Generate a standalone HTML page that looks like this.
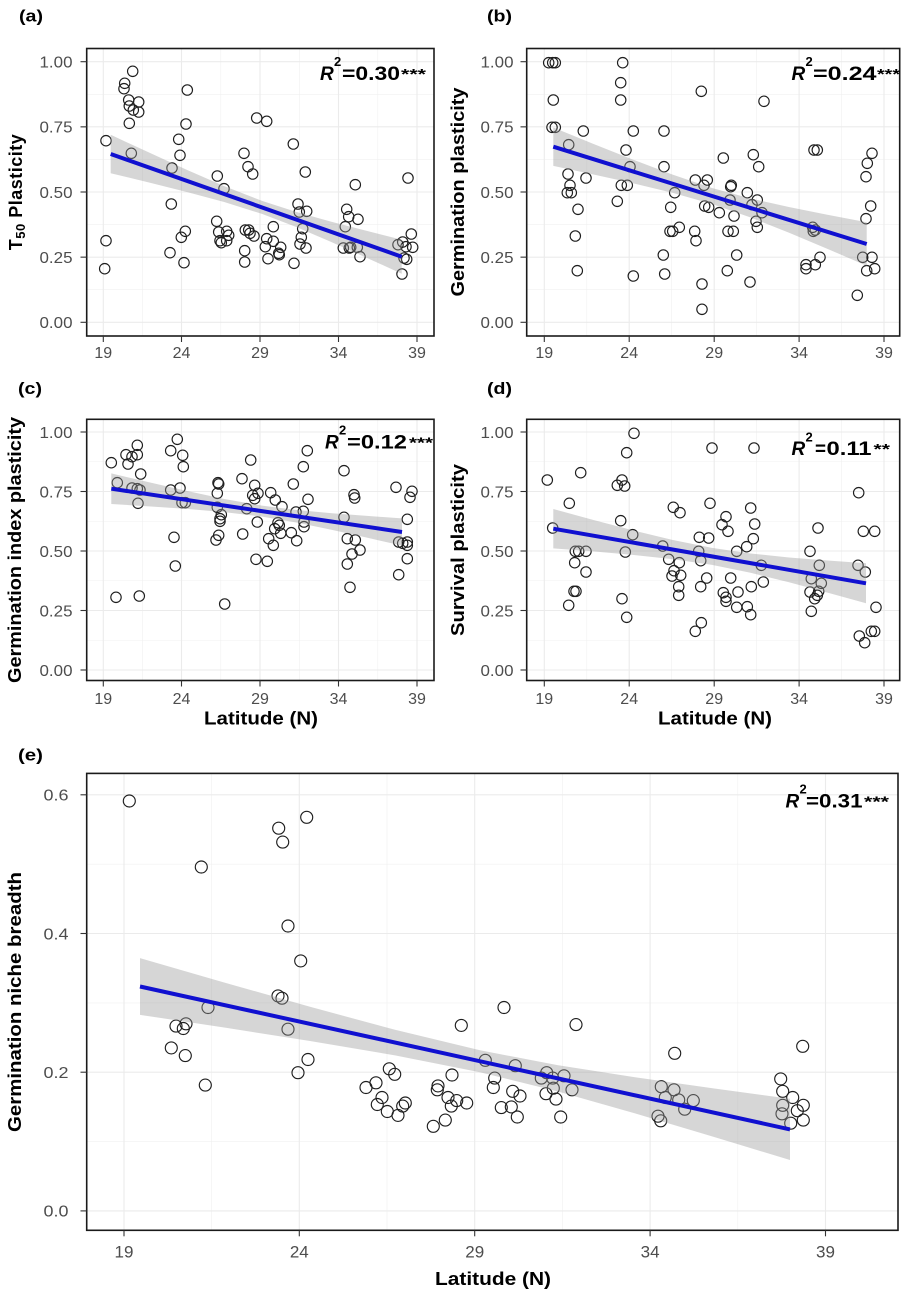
<!DOCTYPE html>
<html><head><meta charset="utf-8"><style>
html,body{margin:0;padding:0;background:#fff;}
svg{display:block;}
text{font-family:"Liberation Sans",Arial,sans-serif;}
.tk{font-size:16px;fill:#4d4d4d;}
.ti{font-size:18px;font-weight:bold;fill:#000;}
.pl{font-size:17px;font-weight:bold;fill:#000;}
.gm{stroke:#ebebeb;stroke-width:1.1;}
.gn{stroke:#f0f0f0;stroke-width:0.6;}
.pt{fill:none;stroke:#1e1e1e;stroke-width:1.15;}
.rb{fill:#999;fill-opacity:0.4;stroke:none;}
.rl{stroke:#1010d0;stroke-width:4;stroke-linecap:butt;fill:none;}
.bd{fill:none;stroke:#1a1a1a;stroke-width:1.6;}
.tm{stroke:#333;stroke-width:1.1;}
.rr{font-weight:bold;fill:#000;}
</style></head><body>
<svg width="908" height="1299" viewBox="0 0 908 1299" xmlns="http://www.w3.org/2000/svg">
<rect x="0" y="0" width="908" height="1299" fill="#fff"/>

<!-- ================= PANEL A ================= -->
<text class="pl" x="19" y="21.5" textLength="24" lengthAdjust="spacingAndGlyphs">(a)</text>
<g>
<line class="gn" x1="142.4" y1="48.5" x2="142.4" y2="336"/><line class="gn" x1="220.8" y1="48.5" x2="220.8" y2="336"/><line class="gn" x1="299.3" y1="48.5" x2="299.3" y2="336"/><line class="gn" x1="377.8" y1="48.5" x2="377.8" y2="336"/>
<line class="gn" x1="86.7" y1="94.3" x2="434" y2="94.3"/><line class="gn" x1="86.7" y1="159.4" x2="434" y2="159.4"/><line class="gn" x1="86.7" y1="224.6" x2="434" y2="224.6"/><line class="gn" x1="86.7" y1="289.7" x2="434" y2="289.7"/>
<line class="gm" x1="103.3" y1="48.5" x2="103.3" y2="336"/><line class="gm" x1="181.5" y1="48.5" x2="181.5" y2="336"/><line class="gm" x1="260" y1="48.5" x2="260" y2="336"/><line class="gm" x1="338.5" y1="48.5" x2="338.5" y2="336"/><line class="gm" x1="417" y1="48.5" x2="417" y2="336"/>
<line class="gm" x1="86.7" y1="61.7" x2="434" y2="61.7"/><line class="gm" x1="86.7" y1="126.85" x2="434" y2="126.85"/><line class="gm" x1="86.7" y1="192" x2="434" y2="192"/><line class="gm" x1="86.7" y1="257.15" x2="434" y2="257.15"/><line class="gm" x1="86.7" y1="322.3" x2="434" y2="322.3"/>
</g>
<g class="pt">
<circle cx="106" cy="140.7" r="5.2"/><circle cx="106" cy="240.7" r="5.2"/><circle cx="104.7" cy="268.7" r="5.2"/><circle cx="124.7" cy="83.3" r="5.2"/><circle cx="124" cy="88.7" r="5.2"/><circle cx="132.7" cy="71.3" r="5.2"/><circle cx="128.7" cy="100" r="5.2"/><circle cx="129.3" cy="106" r="5.2"/><circle cx="133.3" cy="110" r="5.2"/><circle cx="138.7" cy="102" r="5.2"/><circle cx="138.7" cy="112" r="5.2"/><circle cx="129.3" cy="123.3" r="5.2"/><circle cx="131.3" cy="153.3" r="5.2"/>
<circle cx="187.3" cy="90" r="5.2"/><circle cx="186" cy="124" r="5.2"/><circle cx="178.7" cy="139.3" r="5.2"/><circle cx="180" cy="155.3" r="5.2"/><circle cx="172" cy="168" r="5.2"/><circle cx="171.3" cy="204" r="5.2"/><circle cx="185.3" cy="231.3" r="5.2"/><circle cx="181.3" cy="237.3" r="5.2"/><circle cx="170" cy="252.7" r="5.2"/><circle cx="184" cy="262.7" r="5.2"/>
<circle cx="217.3" cy="176" r="5.2"/><circle cx="224" cy="188.7" r="5.2"/><circle cx="216.7" cy="221.3" r="5.2"/><circle cx="218.7" cy="232" r="5.2"/><circle cx="226.7" cy="231.3" r="5.2"/><circle cx="228.7" cy="235.3" r="5.2"/><circle cx="220" cy="240.7" r="5.2"/><circle cx="221.3" cy="242.7" r="5.2"/><circle cx="226.7" cy="240.7" r="5.2"/>
<circle cx="244" cy="153.3" r="5.2"/><circle cx="248" cy="166.7" r="5.2"/><circle cx="252.7" cy="174" r="5.2"/><circle cx="245.3" cy="230" r="5.2"/><circle cx="248.7" cy="230" r="5.2"/><circle cx="250" cy="233.3" r="5.2"/><circle cx="254" cy="236" r="5.2"/><circle cx="244.7" cy="250.7" r="5.2"/><circle cx="244.7" cy="262" r="5.2"/>
<circle cx="256.7" cy="118" r="5.2"/><circle cx="266.7" cy="121.3" r="5.2"/><circle cx="273.3" cy="226.7" r="5.2"/><circle cx="266.7" cy="238.7" r="5.2"/><circle cx="265.3" cy="246.7" r="5.2"/><circle cx="273.3" cy="241.3" r="5.2"/><circle cx="268" cy="258.7" r="5.2"/><circle cx="280.7" cy="247.3" r="5.2"/><circle cx="279.3" cy="254.7" r="5.2"/><circle cx="278.7" cy="253.3" r="5.2"/>
<circle cx="293.3" cy="144" r="5.2"/><circle cx="305.3" cy="172" r="5.2"/><circle cx="298" cy="204" r="5.2"/><circle cx="299.3" cy="212" r="5.2"/><circle cx="306.7" cy="211.3" r="5.2"/><circle cx="302.7" cy="228.7" r="5.2"/><circle cx="301.3" cy="237.3" r="5.2"/><circle cx="300" cy="244" r="5.2"/><circle cx="306" cy="248" r="5.2"/><circle cx="294" cy="263.3" r="5.2"/>
<circle cx="355.3" cy="184.7" r="5.2"/><circle cx="346.7" cy="209.3" r="5.2"/><circle cx="348.7" cy="216.7" r="5.2"/><circle cx="358" cy="219.3" r="5.2"/><circle cx="345.3" cy="226.7" r="5.2"/><circle cx="343.3" cy="248" r="5.2"/><circle cx="350.7" cy="247.3" r="5.2"/><circle cx="349.3" cy="248" r="5.2"/><circle cx="357.3" cy="247.3" r="5.2"/><circle cx="360" cy="256.7" r="5.2"/>
<circle cx="408" cy="178" r="5.2"/><circle cx="411.3" cy="234" r="5.2"/><circle cx="398" cy="244.7" r="5.2"/><circle cx="402.7" cy="242" r="5.2"/><circle cx="406" cy="246.7" r="5.2"/><circle cx="412.7" cy="247.3" r="5.2"/><circle cx="404" cy="258" r="5.2"/><circle cx="406.7" cy="259.3" r="5.2"/><circle cx="402" cy="274" r="5.2"/>
</g>
<polygon class="rb" points="110.7,134.8 148.5,152.31 186.35,169.57 224.2,186.14 262,200.9 296.9,212.12 331.85,221.85 366.8,230.92 401.7,239.7 401.7,273.7 366.8,257.84 331.85,242.23 296.9,227.3 262,213.9 224.2,201.96 186.35,191.83 148.5,182.37 110.7,173.2"/>
<line class="rl" x1="110.7" y1="154" x2="401.7" y2="256.7"/>
<rect class="bd" x="86.7" y="48.5" width="347.3" height="287.5"/>
<g class="tm">
<line x1="80.5" y1="61.7" x2="86.7" y2="61.7"/><line x1="80.5" y1="126.85" x2="86.7" y2="126.85"/><line x1="80.5" y1="192" x2="86.7" y2="192"/><line x1="80.5" y1="257.15" x2="86.7" y2="257.15"/><line x1="80.5" y1="322.3" x2="86.7" y2="322.3"/>
<line x1="103.3" y1="336" x2="103.3" y2="342"/><line x1="181.5" y1="336" x2="181.5" y2="342"/><line x1="260" y1="336" x2="260" y2="342"/><line x1="338.5" y1="336" x2="338.5" y2="342"/><line x1="417" y1="336" x2="417" y2="342"/>
</g>
<g class="tk">
<text x="39.5" y="67.5" textLength="33" lengthAdjust="spacingAndGlyphs">1.00</text>
<text x="39.5" y="132.6" textLength="33" lengthAdjust="spacingAndGlyphs">0.75</text>
<text x="39.5" y="197.8" textLength="33" lengthAdjust="spacingAndGlyphs">0.50</text>
<text x="39.5" y="262.9" textLength="33" lengthAdjust="spacingAndGlyphs">0.25</text>
<text x="39.5" y="328.1" textLength="33" lengthAdjust="spacingAndGlyphs">0.00</text>
<g text-anchor="middle"><text x="103.3" y="358">19</text><text x="181.5" y="358">24</text><text x="260" y="358">29</text><text x="338.5" y="358">34</text><text x="417" y="358">39</text></g>
</g>
<text class="ti" transform="translate(22,192) rotate(-90)" text-anchor="middle" letter-spacing="0.5">T<tspan font-size="13" dy="3">50</tspan><tspan dy="-3"> Plasticity</tspan></text>
<g class="rr">
<text x="320" y="80" font-size="19" font-style="italic">R</text>
<text x="334" y="66" font-size="13">2</text>
<text x="342" y="80" font-size="19" textLength="58" lengthAdjust="spacingAndGlyphs">=0.30</text>
<text x="401" y="79" font-size="15" textLength="25" lengthAdjust="spacingAndGlyphs">***</text>
</g>

<!-- ================= PANEL B ================= -->
<text class="pl" x="487" y="21.5" textLength="25" lengthAdjust="spacingAndGlyphs">(b)</text>
<g>
<line class="gn" x1="586.8" y1="48.5" x2="586.8" y2="336"/><line class="gn" x1="671.7" y1="48.5" x2="671.7" y2="336"/><line class="gn" x1="756.6" y1="48.5" x2="756.6" y2="336"/><line class="gn" x1="841.6" y1="48.5" x2="841.6" y2="336"/>
<line class="gn" x1="526.7" y1="94.3" x2="899.7" y2="94.3"/><line class="gn" x1="526.7" y1="159.4" x2="899.7" y2="159.4"/><line class="gn" x1="526.7" y1="224.6" x2="899.7" y2="224.6"/><line class="gn" x1="526.7" y1="289.7" x2="899.7" y2="289.7"/>
<line class="gm" x1="544.3" y1="48.5" x2="544.3" y2="336"/><line class="gm" x1="629.2" y1="48.5" x2="629.2" y2="336"/><line class="gm" x1="714.2" y1="48.5" x2="714.2" y2="336"/><line class="gm" x1="799.1" y1="48.5" x2="799.1" y2="336"/><line class="gm" x1="884" y1="48.5" x2="884" y2="336"/>
<line class="gm" x1="526.7" y1="61.7" x2="899.7" y2="61.7"/><line class="gm" x1="526.7" y1="126.85" x2="899.7" y2="126.85"/><line class="gm" x1="526.7" y1="192" x2="899.7" y2="192"/><line class="gm" x1="526.7" y1="257.15" x2="899.7" y2="257.15"/><line class="gm" x1="526.7" y1="322.3" x2="899.7" y2="322.3"/>
</g>
<g class="pt">
<circle cx="548.7" cy="62.7" r="5.2"/><circle cx="552.7" cy="62.7" r="5.2"/><circle cx="555.3" cy="62.7" r="5.2"/><circle cx="553.3" cy="100" r="5.2"/><circle cx="552" cy="127.3" r="5.2"/><circle cx="555.3" cy="127.3" r="5.2"/><circle cx="568.7" cy="144.7" r="5.2"/><circle cx="583.3" cy="131" r="5.2"/><circle cx="568" cy="174" r="5.2"/><circle cx="570" cy="185.3" r="5.2"/><circle cx="567.3" cy="192.7" r="5.2"/><circle cx="571.3" cy="192.7" r="5.2"/><circle cx="586" cy="178" r="5.2"/><circle cx="578" cy="209.3" r="5.2"/><circle cx="575.3" cy="236" r="5.2"/><circle cx="577.3" cy="270.7" r="5.2"/>
<circle cx="622.7" cy="62.7" r="5.2"/><circle cx="620.7" cy="82.7" r="5.2"/><circle cx="620.7" cy="100" r="5.2"/><circle cx="633.3" cy="131" r="5.2"/><circle cx="626" cy="150" r="5.2"/><circle cx="630" cy="166.7" r="5.2"/><circle cx="621.3" cy="185.3" r="5.2"/><circle cx="627.3" cy="185.3" r="5.2"/><circle cx="617.3" cy="201.3" r="5.2"/><circle cx="633.3" cy="276" r="5.2"/>
<circle cx="664" cy="131" r="5.2"/><circle cx="664" cy="166.7" r="5.2"/><circle cx="674.7" cy="192.7" r="5.2"/><circle cx="670.7" cy="207.3" r="5.2"/><circle cx="670" cy="231.3" r="5.2"/><circle cx="672.7" cy="231.3" r="5.2"/><circle cx="679.3" cy="227.3" r="5.2"/><circle cx="663.3" cy="255" r="5.2"/><circle cx="664.7" cy="274" r="5.2"/>
<circle cx="701.3" cy="91.3" r="5.2"/><circle cx="695.3" cy="180" r="5.2"/><circle cx="704" cy="185.3" r="5.2"/><circle cx="707.3" cy="180" r="5.2"/><circle cx="704.7" cy="206" r="5.2"/><circle cx="708.7" cy="207.3" r="5.2"/><circle cx="694.7" cy="231.3" r="5.2"/><circle cx="696" cy="240.7" r="5.2"/><circle cx="702" cy="284" r="5.2"/><circle cx="702" cy="309.3" r="5.2"/>
<circle cx="723.3" cy="158" r="5.2"/><circle cx="719.3" cy="212.7" r="5.2"/><circle cx="731.3" cy="185.3" r="5.2"/><circle cx="730.7" cy="186.7" r="5.2"/><circle cx="730" cy="200" r="5.2"/><circle cx="734" cy="216" r="5.2"/><circle cx="728" cy="231.3" r="5.2"/><circle cx="733.3" cy="231.3" r="5.2"/><circle cx="736.7" cy="255" r="5.2"/><circle cx="727.3" cy="270.7" r="5.2"/><circle cx="750" cy="282" r="5.2"/>
<circle cx="753.3" cy="154.7" r="5.2"/><circle cx="758.7" cy="166.7" r="5.2"/><circle cx="764" cy="101.3" r="5.2"/><circle cx="747.3" cy="192.7" r="5.2"/><circle cx="752" cy="204.7" r="5.2"/><circle cx="757.3" cy="200" r="5.2"/><circle cx="762" cy="212.7" r="5.2"/><circle cx="756" cy="221.3" r="5.2"/><circle cx="757.3" cy="227.3" r="5.2"/>
<circle cx="814" cy="150" r="5.2"/><circle cx="817.3" cy="150" r="5.2"/><circle cx="812.7" cy="227.3" r="5.2"/><circle cx="813.3" cy="231.3" r="5.2"/><circle cx="815.3" cy="230" r="5.2"/><circle cx="806" cy="264.7" r="5.2"/><circle cx="806" cy="268.7" r="5.2"/><circle cx="815.3" cy="264.7" r="5.2"/><circle cx="820" cy="257.3" r="5.2"/>
<circle cx="872" cy="153.3" r="5.2"/><circle cx="867.3" cy="163.3" r="5.2"/><circle cx="866" cy="176.7" r="5.2"/><circle cx="870.7" cy="206" r="5.2"/><circle cx="866" cy="218.7" r="5.2"/><circle cx="862.7" cy="257.3" r="5.2"/><circle cx="872" cy="257.3" r="5.2"/><circle cx="866.7" cy="270.7" r="5.2"/><circle cx="874.7" cy="268.7" r="5.2"/><circle cx="857.3" cy="295.3" r="5.2"/>
</g>
<polygon class="rb" points="553.3,127.5 593,143.69 632.6,159.48 672.3,174.54 712,187.98 750.7,198.53 789.4,207.13 828,214.89 866.7,222.3 866.7,265.7 828,249.11 789.4,232.89 750.7,217.45 712,203.98 672.3,192.76 632.6,183.16 593,174.37 553.3,165.9"/>
<line class="rl" x1="553.3" y1="146.7" x2="866.7" y2="244"/>
<rect class="bd" x="526.7" y="48.5" width="373" height="287.5"/>
<g class="tm">
<line x1="520.5" y1="61.7" x2="526.7" y2="61.7"/><line x1="520.5" y1="126.85" x2="526.7" y2="126.85"/><line x1="520.5" y1="192" x2="526.7" y2="192"/><line x1="520.5" y1="257.15" x2="526.7" y2="257.15"/><line x1="520.5" y1="322.3" x2="526.7" y2="322.3"/>
<line x1="544.3" y1="336" x2="544.3" y2="342"/><line x1="629.2" y1="336" x2="629.2" y2="342"/><line x1="714.2" y1="336" x2="714.2" y2="342"/><line x1="799.1" y1="336" x2="799.1" y2="342"/><line x1="884" y1="336" x2="884" y2="342"/>
</g>
<g class="tk">
<text x="480.5" y="67.5" textLength="33" lengthAdjust="spacingAndGlyphs">1.00</text>
<text x="480.5" y="132.6" textLength="33" lengthAdjust="spacingAndGlyphs">0.75</text>
<text x="480.5" y="197.8" textLength="33" lengthAdjust="spacingAndGlyphs">0.50</text>
<text x="480.5" y="262.9" textLength="33" lengthAdjust="spacingAndGlyphs">0.25</text>
<text x="480.5" y="328.1" textLength="33" lengthAdjust="spacingAndGlyphs">0.00</text>
<g text-anchor="middle"><text x="544.3" y="358">19</text><text x="629.2" y="358">24</text><text x="714.2" y="358">29</text><text x="799.1" y="358">34</text><text x="884" y="358">39</text></g>
</g>
<text class="ti" transform="translate(464,192) rotate(-90)" text-anchor="middle" textLength="209" lengthAdjust="spacingAndGlyphs">Germination plasticity</text>
<g class="rr">
<text x="791.5" y="80" font-size="19" font-style="italic">R</text>
<text x="805.5" y="66" font-size="13">2</text>
<text x="813" y="80" font-size="19" textLength="63.5" lengthAdjust="spacingAndGlyphs">=0.24</text>
<text x="877" y="79" font-size="15" textLength="23" lengthAdjust="spacingAndGlyphs">***</text>
</g>

<!-- ================= PANEL C ================= -->
<text class="pl" x="18" y="394" textLength="24" lengthAdjust="spacingAndGlyphs">(c)</text>
<g>
<line class="gn" x1="142.4" y1="419.3" x2="142.4" y2="680.5"/><line class="gn" x1="220.8" y1="419.3" x2="220.8" y2="680.5"/><line class="gn" x1="299.3" y1="419.3" x2="299.3" y2="680.5"/><line class="gn" x1="377.8" y1="419.3" x2="377.8" y2="680.5"/>
<line class="gn" x1="86.7" y1="461.75" x2="434" y2="461.75"/><line class="gn" x1="86.7" y1="521.25" x2="434" y2="521.25"/><line class="gn" x1="86.7" y1="580.75" x2="434" y2="580.75"/><line class="gn" x1="86.7" y1="640.25" x2="434" y2="640.25"/>
<line class="gm" x1="103.3" y1="419.3" x2="103.3" y2="680.5"/><line class="gm" x1="181.5" y1="419.3" x2="181.5" y2="680.5"/><line class="gm" x1="260" y1="419.3" x2="260" y2="680.5"/><line class="gm" x1="338.5" y1="419.3" x2="338.5" y2="680.5"/><line class="gm" x1="417" y1="419.3" x2="417" y2="680.5"/>
<line class="gm" x1="86.7" y1="432" x2="434" y2="432"/><line class="gm" x1="86.7" y1="491.5" x2="434" y2="491.5"/><line class="gm" x1="86.7" y1="551" x2="434" y2="551"/><line class="gm" x1="86.7" y1="610.5" x2="434" y2="610.5"/><line class="gm" x1="86.7" y1="670" x2="434" y2="670"/>
</g>
<g class="pt">
<circle cx="111.3" cy="462.7" r="5.2"/><circle cx="117.3" cy="482.7" r="5.2"/><circle cx="116" cy="597.3" r="5.2"/><circle cx="126" cy="454.7" r="5.2"/><circle cx="128" cy="464" r="5.2"/><circle cx="132" cy="456.7" r="5.2"/><circle cx="137.3" cy="454.7" r="5.2"/><circle cx="137.3" cy="445.3" r="5.2"/><circle cx="140.7" cy="474" r="5.2"/><circle cx="132" cy="488" r="5.2"/><circle cx="137.3" cy="488.7" r="5.2"/><circle cx="140" cy="490" r="5.2"/><circle cx="138" cy="503.3" r="5.2"/><circle cx="139.3" cy="596" r="5.2"/>
<circle cx="170.7" cy="450.7" r="5.2"/><circle cx="177.3" cy="439.3" r="5.2"/><circle cx="182.7" cy="455.3" r="5.2"/><circle cx="183.3" cy="466.7" r="5.2"/><circle cx="170.7" cy="490" r="5.2"/><circle cx="180" cy="488" r="5.2"/><circle cx="182" cy="502.7" r="5.2"/><circle cx="185.3" cy="502.7" r="5.2"/><circle cx="174" cy="537.3" r="5.2"/><circle cx="175.3" cy="566" r="5.2"/>
<circle cx="218" cy="482.7" r="5.2"/><circle cx="218.7" cy="484" r="5.2"/><circle cx="217.3" cy="493.3" r="5.2"/><circle cx="217.3" cy="507.3" r="5.2"/><circle cx="221.3" cy="514.7" r="5.2"/><circle cx="220" cy="521.3" r="5.2"/><circle cx="220" cy="518.7" r="5.2"/><circle cx="216" cy="540" r="5.2"/><circle cx="218.7" cy="535.3" r="5.2"/><circle cx="224.7" cy="604" r="5.2"/>
<circle cx="250.7" cy="460" r="5.2"/><circle cx="242" cy="478.7" r="5.2"/><circle cx="254.7" cy="485.3" r="5.2"/><circle cx="252.7" cy="495.3" r="5.2"/><circle cx="258" cy="493.3" r="5.2"/><circle cx="254.7" cy="498.7" r="5.2"/><circle cx="246.7" cy="508.7" r="5.2"/><circle cx="242.7" cy="534" r="5.2"/><circle cx="257.3" cy="522" r="5.2"/><circle cx="256" cy="559.3" r="5.2"/><circle cx="267.3" cy="561.3" r="5.2"/>
<circle cx="270.7" cy="492.7" r="5.2"/><circle cx="275.3" cy="500" r="5.2"/><circle cx="282" cy="506.7" r="5.2"/><circle cx="278" cy="522.7" r="5.2"/><circle cx="274.7" cy="528.7" r="5.2"/><circle cx="279.3" cy="525.3" r="5.2"/><circle cx="268.7" cy="538.7" r="5.2"/><circle cx="273.3" cy="545.3" r="5.2"/><circle cx="280.7" cy="533.3" r="5.2"/><circle cx="291.3" cy="532.7" r="5.2"/><circle cx="296.7" cy="540.7" r="5.2"/>
<circle cx="293.3" cy="484" r="5.2"/><circle cx="296" cy="512" r="5.2"/><circle cx="303.3" cy="511.3" r="5.2"/><circle cx="304" cy="522" r="5.2"/><circle cx="304" cy="526.7" r="5.2"/><circle cx="307.3" cy="450.7" r="5.2"/><circle cx="303.3" cy="466.7" r="5.2"/><circle cx="308" cy="499.3" r="5.2"/>
<circle cx="344" cy="470.7" r="5.2"/><circle cx="344" cy="517.3" r="5.2"/><circle cx="354" cy="494.7" r="5.2"/><circle cx="354.7" cy="498" r="5.2"/><circle cx="347.3" cy="538.7" r="5.2"/><circle cx="355.3" cy="540" r="5.2"/><circle cx="352" cy="554" r="5.2"/><circle cx="360" cy="550" r="5.2"/><circle cx="347.3" cy="564" r="5.2"/><circle cx="350" cy="587.3" r="5.2"/>
<circle cx="396" cy="487.3" r="5.2"/><circle cx="412" cy="491.3" r="5.2"/><circle cx="410" cy="497.3" r="5.2"/><circle cx="407.3" cy="519.3" r="5.2"/><circle cx="398.7" cy="542" r="5.2"/><circle cx="402.7" cy="543.3" r="5.2"/><circle cx="407.3" cy="542" r="5.2"/><circle cx="407.3" cy="545.3" r="5.2"/><circle cx="407.3" cy="558.7" r="5.2"/><circle cx="398.7" cy="574.7" r="5.2"/>
</g>
<polygon class="rb" points="111.3,473.4 149,482.28 186.65,490.91 224.3,498.97 262,505.65 297,510.04 332,513.25 367,515.93 402,518.35 402,545.65 367,537.65 332,529.89 297,522.68 262,516.65 224.3,512.09 186.65,508.93 149,506.36 111.3,504"/>
<line class="rl" x1="111.3" y1="488.7" x2="402" y2="532"/>
<rect class="bd" x="86.7" y="419.3" width="347.3" height="261.2"/>
<g class="tm">
<line x1="80.5" y1="432" x2="86.7" y2="432"/><line x1="80.5" y1="491.5" x2="86.7" y2="491.5"/><line x1="80.5" y1="551" x2="86.7" y2="551"/><line x1="80.5" y1="610.5" x2="86.7" y2="610.5"/><line x1="80.5" y1="670" x2="86.7" y2="670"/>
<line x1="103.3" y1="680.5" x2="103.3" y2="686.5"/><line x1="181.5" y1="680.5" x2="181.5" y2="686.5"/><line x1="260" y1="680.5" x2="260" y2="686.5"/><line x1="338.5" y1="680.5" x2="338.5" y2="686.5"/><line x1="417" y1="680.5" x2="417" y2="686.5"/>
</g>
<g class="tk">
<text x="39.5" y="437.8" textLength="33" lengthAdjust="spacingAndGlyphs">1.00</text>
<text x="39.5" y="497.3" textLength="33" lengthAdjust="spacingAndGlyphs">0.75</text>
<text x="39.5" y="556.8" textLength="33" lengthAdjust="spacingAndGlyphs">0.50</text>
<text x="39.5" y="616.3" textLength="33" lengthAdjust="spacingAndGlyphs">0.25</text>
<text x="39.5" y="675.8" textLength="33" lengthAdjust="spacingAndGlyphs">0.00</text>
<g text-anchor="middle"><text x="103.3" y="704">19</text><text x="181.5" y="704">24</text><text x="260" y="704">29</text><text x="338.5" y="704">34</text><text x="417" y="704">39</text></g>
</g>
<text class="ti" transform="translate(21,550) rotate(-90)" text-anchor="middle" textLength="266" lengthAdjust="spacingAndGlyphs">Germination index plasticity</text>
<text class="ti" x="261" y="724.5" text-anchor="middle" textLength="114" lengthAdjust="spacingAndGlyphs">Latitude (N)</text>
<g class="rr">
<text x="325" y="448.5" font-size="19" font-style="italic">R</text>
<text x="339" y="434.5" font-size="13">2</text>
<text x="347" y="448.5" font-size="19" textLength="60" lengthAdjust="spacingAndGlyphs">=0.12</text>
<text x="409" y="447.5" font-size="15" textLength="24" lengthAdjust="spacingAndGlyphs">***</text>
</g>

<!-- ================= PANEL D ================= -->
<text class="pl" x="487" y="394" textLength="25" lengthAdjust="spacingAndGlyphs">(d)</text>
<g>
<line class="gn" x1="586.8" y1="419.3" x2="586.8" y2="680.5"/><line class="gn" x1="671.7" y1="419.3" x2="671.7" y2="680.5"/><line class="gn" x1="756.6" y1="419.3" x2="756.6" y2="680.5"/><line class="gn" x1="841.6" y1="419.3" x2="841.6" y2="680.5"/>
<line class="gn" x1="526.7" y1="461.75" x2="899.7" y2="461.75"/><line class="gn" x1="526.7" y1="521.25" x2="899.7" y2="521.25"/><line class="gn" x1="526.7" y1="580.75" x2="899.7" y2="580.75"/><line class="gn" x1="526.7" y1="640.25" x2="899.7" y2="640.25"/>
<line class="gm" x1="544.3" y1="419.3" x2="544.3" y2="680.5"/><line class="gm" x1="629.2" y1="419.3" x2="629.2" y2="680.5"/><line class="gm" x1="714.2" y1="419.3" x2="714.2" y2="680.5"/><line class="gm" x1="799.1" y1="419.3" x2="799.1" y2="680.5"/><line class="gm" x1="884" y1="419.3" x2="884" y2="680.5"/>
<line class="gm" x1="526.7" y1="432" x2="899.7" y2="432"/><line class="gm" x1="526.7" y1="491.5" x2="899.7" y2="491.5"/><line class="gm" x1="526.7" y1="551" x2="899.7" y2="551"/><line class="gm" x1="526.7" y1="610.5" x2="899.7" y2="610.5"/><line class="gm" x1="526.7" y1="670" x2="899.7" y2="670"/>
</g>
<g class="pt">
<circle cx="547.3" cy="480" r="5.2"/><circle cx="552.7" cy="528" r="5.2"/><circle cx="569.3" cy="503.3" r="5.2"/><circle cx="580.7" cy="472.7" r="5.2"/><circle cx="575.3" cy="551.3" r="5.2"/><circle cx="578.7" cy="551.3" r="5.2"/><circle cx="586" cy="551.3" r="5.2"/><circle cx="574.7" cy="562.7" r="5.2"/><circle cx="586" cy="572" r="5.2"/><circle cx="574" cy="591.3" r="5.2"/><circle cx="576" cy="591.3" r="5.2"/><circle cx="568.7" cy="605.3" r="5.2"/>
<circle cx="634" cy="433.3" r="5.2"/><circle cx="626.7" cy="452.7" r="5.2"/><circle cx="622" cy="480" r="5.2"/><circle cx="617.3" cy="485.3" r="5.2"/><circle cx="624.7" cy="486" r="5.2"/><circle cx="620.7" cy="520.7" r="5.2"/><circle cx="632.7" cy="534.7" r="5.2"/><circle cx="625.3" cy="552" r="5.2"/><circle cx="622" cy="598.7" r="5.2"/><circle cx="626.7" cy="617.3" r="5.2"/>
<circle cx="662.7" cy="546" r="5.2"/><circle cx="673.3" cy="507.3" r="5.2"/><circle cx="680" cy="512.7" r="5.2"/><circle cx="668.7" cy="559.3" r="5.2"/><circle cx="679.3" cy="562.7" r="5.2"/><circle cx="674" cy="570.7" r="5.2"/><circle cx="680.7" cy="575.3" r="5.2"/><circle cx="672" cy="576" r="5.2"/><circle cx="678.7" cy="586.7" r="5.2"/><circle cx="678.7" cy="595.3" r="5.2"/>
<circle cx="712" cy="448" r="5.2"/><circle cx="710" cy="503.3" r="5.2"/><circle cx="699.3" cy="537.3" r="5.2"/><circle cx="708.7" cy="538" r="5.2"/><circle cx="698.7" cy="551.3" r="5.2"/><circle cx="700.7" cy="560.7" r="5.2"/><circle cx="706.7" cy="578" r="5.2"/><circle cx="700.7" cy="586.7" r="5.2"/><circle cx="701.3" cy="622.7" r="5.2"/><circle cx="695.3" cy="631.3" r="5.2"/>
<circle cx="726" cy="516.7" r="5.2"/><circle cx="722" cy="524.7" r="5.2"/><circle cx="728" cy="531.3" r="5.2"/><circle cx="736.7" cy="551.3" r="5.2"/><circle cx="730.7" cy="578" r="5.2"/><circle cx="723.3" cy="592.7" r="5.2"/><circle cx="726" cy="597.3" r="5.2"/><circle cx="726" cy="601.3" r="5.2"/><circle cx="738" cy="592" r="5.2"/><circle cx="736.7" cy="607.3" r="5.2"/>
<circle cx="754" cy="448" r="5.2"/><circle cx="750.7" cy="508" r="5.2"/><circle cx="754.7" cy="524" r="5.2"/><circle cx="753.3" cy="538.7" r="5.2"/><circle cx="746.7" cy="546.7" r="5.2"/><circle cx="761.3" cy="565.3" r="5.2"/><circle cx="763.3" cy="582" r="5.2"/><circle cx="751.3" cy="586.7" r="5.2"/><circle cx="747.3" cy="606.7" r="5.2"/><circle cx="750.7" cy="614.7" r="5.2"/>
<circle cx="818" cy="528" r="5.2"/><circle cx="810" cy="551.3" r="5.2"/><circle cx="819.3" cy="565.3" r="5.2"/><circle cx="811.3" cy="578.7" r="5.2"/><circle cx="821.3" cy="583.3" r="5.2"/><circle cx="810" cy="592" r="5.2"/><circle cx="818.7" cy="591.3" r="5.2"/><circle cx="814.7" cy="598.7" r="5.2"/><circle cx="817.3" cy="595.3" r="5.2"/><circle cx="811.3" cy="611.3" r="5.2"/>
<circle cx="858.7" cy="492.7" r="5.2"/><circle cx="863.3" cy="531.3" r="5.2"/><circle cx="874.7" cy="531.3" r="5.2"/><circle cx="858" cy="565.3" r="5.2"/><circle cx="865.3" cy="572" r="5.2"/><circle cx="876" cy="607.3" r="5.2"/><circle cx="859.3" cy="636" r="5.2"/><circle cx="864.7" cy="642.7" r="5.2"/><circle cx="871.3" cy="631.3" r="5.2"/><circle cx="874.7" cy="631.3" r="5.2"/>
</g>
<polygon class="rb" points="553.3,509.05 593,519.86 632.6,530.27 672.3,539.89 712,547.91 750.5,553.5 789,557.44 827.5,560.56 866,563.3 866,603.3 827.5,592.6 789,582.28 750.5,572.76 712,564.91 672.3,559.07 632.6,554.83 593,551.4 553.3,548.35"/>
<line class="rl" x1="553.3" y1="528.7" x2="866" y2="583.3"/>
<rect class="bd" x="526.7" y="419.3" width="373" height="261.2"/>
<g class="tm">
<line x1="520.5" y1="432" x2="526.7" y2="432"/><line x1="520.5" y1="491.5" x2="526.7" y2="491.5"/><line x1="520.5" y1="551" x2="526.7" y2="551"/><line x1="520.5" y1="610.5" x2="526.7" y2="610.5"/><line x1="520.5" y1="670" x2="526.7" y2="670"/>
<line x1="544.3" y1="680.5" x2="544.3" y2="686.5"/><line x1="629.2" y1="680.5" x2="629.2" y2="686.5"/><line x1="714.2" y1="680.5" x2="714.2" y2="686.5"/><line x1="799.1" y1="680.5" x2="799.1" y2="686.5"/><line x1="884" y1="680.5" x2="884" y2="686.5"/>
</g>
<g class="tk">
<text x="480.5" y="437.8" textLength="33" lengthAdjust="spacingAndGlyphs">1.00</text>
<text x="480.5" y="497.3" textLength="33" lengthAdjust="spacingAndGlyphs">0.75</text>
<text x="480.5" y="556.8" textLength="33" lengthAdjust="spacingAndGlyphs">0.50</text>
<text x="480.5" y="616.3" textLength="33" lengthAdjust="spacingAndGlyphs">0.25</text>
<text x="480.5" y="675.8" textLength="33" lengthAdjust="spacingAndGlyphs">0.00</text>
<g text-anchor="middle"><text x="544.3" y="704">19</text><text x="629.2" y="704">24</text><text x="714.2" y="704">29</text><text x="799.1" y="704">34</text><text x="884" y="704">39</text></g>
</g>
<text class="ti" transform="translate(464,550) rotate(-90)" text-anchor="middle" textLength="172" lengthAdjust="spacingAndGlyphs">Survival plasticity</text>
<text class="ti" x="715" y="724.5" text-anchor="middle" textLength="114" lengthAdjust="spacingAndGlyphs">Latitude (N)</text>
<g class="rr">
<text x="791.5" y="455" font-size="19" font-style="italic">R</text>
<text x="805.5" y="441.5" font-size="13">2</text>
<text x="815" y="455" font-size="19" textLength="11" lengthAdjust="spacingAndGlyphs">=</text>
<text x="826.5" y="455" font-size="19" textLength="45" lengthAdjust="spacingAndGlyphs">0.11</text>
<text x="873.5" y="454" font-size="15" textLength="16.5" lengthAdjust="spacingAndGlyphs">**</text>
</g>

<!-- ================= PANEL E ================= -->
<text class="pl" x="18" y="760.5" textLength="25" lengthAdjust="spacingAndGlyphs">(e)</text>
<g>
<line class="gn" x1="211.7" y1="773.4" x2="211.7" y2="1230.3"/><line class="gn" x1="387" y1="773.4" x2="387" y2="1230.3"/><line class="gn" x1="562.4" y1="773.4" x2="562.4" y2="1230.3"/><line class="gn" x1="737.8" y1="773.4" x2="737.8" y2="1230.3"/>
<line class="gn" x1="86.7" y1="864.2" x2="898" y2="864.2"/><line class="gn" x1="86.7" y1="1002.9" x2="898" y2="1002.9"/><line class="gn" x1="86.7" y1="1141.6" x2="898" y2="1141.6"/>
<line class="gm" x1="124" y1="773.4" x2="124" y2="1230.3"/><line class="gm" x1="299.3" y1="773.4" x2="299.3" y2="1230.3"/><line class="gm" x1="474.7" y1="773.4" x2="474.7" y2="1230.3"/><line class="gm" x1="650.1" y1="773.4" x2="650.1" y2="1230.3"/><line class="gm" x1="825.5" y1="773.4" x2="825.5" y2="1230.3"/>
<line class="gm" x1="86.7" y1="794.8" x2="898" y2="794.8"/><line class="gm" x1="86.7" y1="933.5" x2="898" y2="933.5"/><line class="gm" x1="86.7" y1="1072.2" x2="898" y2="1072.2"/><line class="gm" x1="86.7" y1="1210.9" x2="898" y2="1210.9"/>
</g>
<g class="pt">
<circle cx="129.3" cy="801" r="6"/><circle cx="201.3" cy="867" r="6"/><circle cx="278.7" cy="828.2" r="6"/><circle cx="282.7" cy="842.1" r="6"/><circle cx="306.7" cy="817.3" r="6"/><circle cx="288" cy="926" r="6"/><circle cx="300.7" cy="960.9" r="6"/><circle cx="278" cy="995.9" r="6"/><circle cx="282" cy="998.2" r="6"/><circle cx="208" cy="1007.5" r="6"/>
<circle cx="176" cy="1026.1" r="6"/><circle cx="183.3" cy="1028.5" r="6"/><circle cx="186" cy="1023.8" r="6"/><circle cx="288" cy="1029.2" r="6"/><circle cx="171.3" cy="1047.9" r="6"/><circle cx="185.3" cy="1055.6" r="6"/><circle cx="308" cy="1059.5" r="6"/><circle cx="298" cy="1072.7" r="6"/><circle cx="205.3" cy="1085.1" r="6"/>
<circle cx="366" cy="1087.5" r="6"/><circle cx="376" cy="1082.8" r="6"/><circle cx="389.3" cy="1068.8" r="6"/><circle cx="394.7" cy="1074.3" r="6"/><circle cx="382" cy="1097.5" r="6"/><circle cx="377.3" cy="1104.5" r="6"/><circle cx="387.3" cy="1111.5" r="6"/><circle cx="398" cy="1115.4" r="6"/><circle cx="402.7" cy="1106.1" r="6"/><circle cx="405.3" cy="1103" r="6"/>
<circle cx="433.3" cy="1126.3" r="6"/><circle cx="438" cy="1085.9" r="6"/><circle cx="437.3" cy="1089.8" r="6"/><circle cx="445.3" cy="1120.1" r="6"/><circle cx="448" cy="1097.5" r="6"/><circle cx="451.3" cy="1106.1" r="6"/><circle cx="452" cy="1075" r="6"/><circle cx="461.3" cy="1025.4" r="6"/><circle cx="456.7" cy="1100.6" r="6"/><circle cx="466.7" cy="1103" r="6"/>
<circle cx="504" cy="1007.5" r="6"/><circle cx="485.3" cy="1060.3" r="6"/><circle cx="494.7" cy="1078.1" r="6"/><circle cx="493.3" cy="1087.5" r="6"/><circle cx="515.3" cy="1065.7" r="6"/><circle cx="512.7" cy="1091.3" r="6"/><circle cx="520" cy="1096" r="6"/><circle cx="511.3" cy="1106.9" r="6"/><circle cx="501.3" cy="1107.6" r="6"/><circle cx="517.3" cy="1117" r="6"/>
<circle cx="541.3" cy="1078.1" r="6"/><circle cx="546.7" cy="1072.7" r="6"/><circle cx="552.7" cy="1078.1" r="6"/><circle cx="564" cy="1075.8" r="6"/><circle cx="553.3" cy="1088.2" r="6"/><circle cx="546" cy="1093.7" r="6"/><circle cx="556" cy="1099.1" r="6"/><circle cx="572" cy="1089.8" r="6"/><circle cx="560.7" cy="1117" r="6"/><circle cx="576" cy="1024.6" r="6"/>
<circle cx="674.7" cy="1053.3" r="6"/><circle cx="661.3" cy="1086.7" r="6"/><circle cx="674" cy="1089.8" r="6"/><circle cx="665.3" cy="1097.5" r="6"/><circle cx="678.7" cy="1099.9" r="6"/><circle cx="693.3" cy="1100.6" r="6"/><circle cx="684.7" cy="1109.2" r="6"/><circle cx="658" cy="1116.2" r="6"/><circle cx="660.7" cy="1120.8" r="6"/>
<circle cx="802.7" cy="1046.3" r="6"/><circle cx="780.7" cy="1078.9" r="6"/><circle cx="782.7" cy="1091.3" r="6"/><circle cx="792.7" cy="1097.5" r="6"/><circle cx="803.3" cy="1105.3" r="6"/><circle cx="782.7" cy="1105.3" r="6"/><circle cx="782" cy="1113.8" r="6"/><circle cx="797.3" cy="1110.7" r="6"/><circle cx="803.3" cy="1120.1" r="6"/><circle cx="790.7" cy="1123.2" r="6"/>
</g>
<polygon class="rb" points="140,958.15 225,982.72 310,1006.79 395,1029.77 480,1050.25 557.5,1065.17 635,1077.29 712.5,1088.25 790,1098.75 790,1160.05 712.5,1136.47 635,1113.37 557.5,1091.41 480,1072.25 395,1055.35 310,1040.95 225,1027.66 140,1014.85"/>
<line class="rl" x1="140" y1="986.5" x2="790" y2="1129.4"/>
<rect class="bd" x="86.7" y="773.4" width="811.3" height="456.9"/>
<g class="tm">
<line x1="80.5" y1="794.8" x2="86.7" y2="794.8"/><line x1="80.5" y1="933.5" x2="86.7" y2="933.5"/><line x1="80.5" y1="1072.2" x2="86.7" y2="1072.2"/><line x1="80.5" y1="1210.9" x2="86.7" y2="1210.9"/>
<line x1="124" y1="1230.3" x2="124" y2="1236.3"/><line x1="299.3" y1="1230.3" x2="299.3" y2="1236.3"/><line x1="474.7" y1="1230.3" x2="474.7" y2="1236.3"/><line x1="650.1" y1="1230.3" x2="650.1" y2="1236.3"/><line x1="825.5" y1="1230.3" x2="825.5" y2="1236.3"/>
</g>
<g class="tk">
<text x="43.5" y="800.6" textLength="25" lengthAdjust="spacingAndGlyphs">0.6</text>
<text x="43.5" y="939.3" textLength="25" lengthAdjust="spacingAndGlyphs">0.4</text>
<text x="43.5" y="1078" textLength="25" lengthAdjust="spacingAndGlyphs">0.2</text>
<text x="43.5" y="1216.7" textLength="25" lengthAdjust="spacingAndGlyphs">0.0</text>
<g text-anchor="middle" font-size="17"><text x="124" y="1257.5">19</text><text x="299.3" y="1257.5">24</text><text x="474.7" y="1257.5">29</text><text x="650.1" y="1257.5">34</text><text x="825.5" y="1257.5">39</text></g>
</g>
<text class="ti" transform="translate(21,1002) rotate(-90)" text-anchor="middle" textLength="260" lengthAdjust="spacingAndGlyphs">Germination niche breadth</text>
<text class="ti" x="493" y="1285" text-anchor="middle" textLength="116" lengthAdjust="spacingAndGlyphs">Latitude (N)</text>
<g class="rr">
<text x="785.5" y="807.5" font-size="19" font-style="italic">R</text>
<text x="799.5" y="793.5" font-size="13">2</text>
<text x="806" y="807.5" font-size="19" textLength="56.5" lengthAdjust="spacingAndGlyphs">=0.31</text>
<text x="864" y="806.5" font-size="15" textLength="25" lengthAdjust="spacingAndGlyphs">***</text>
</g>
</svg>
</body></html>
